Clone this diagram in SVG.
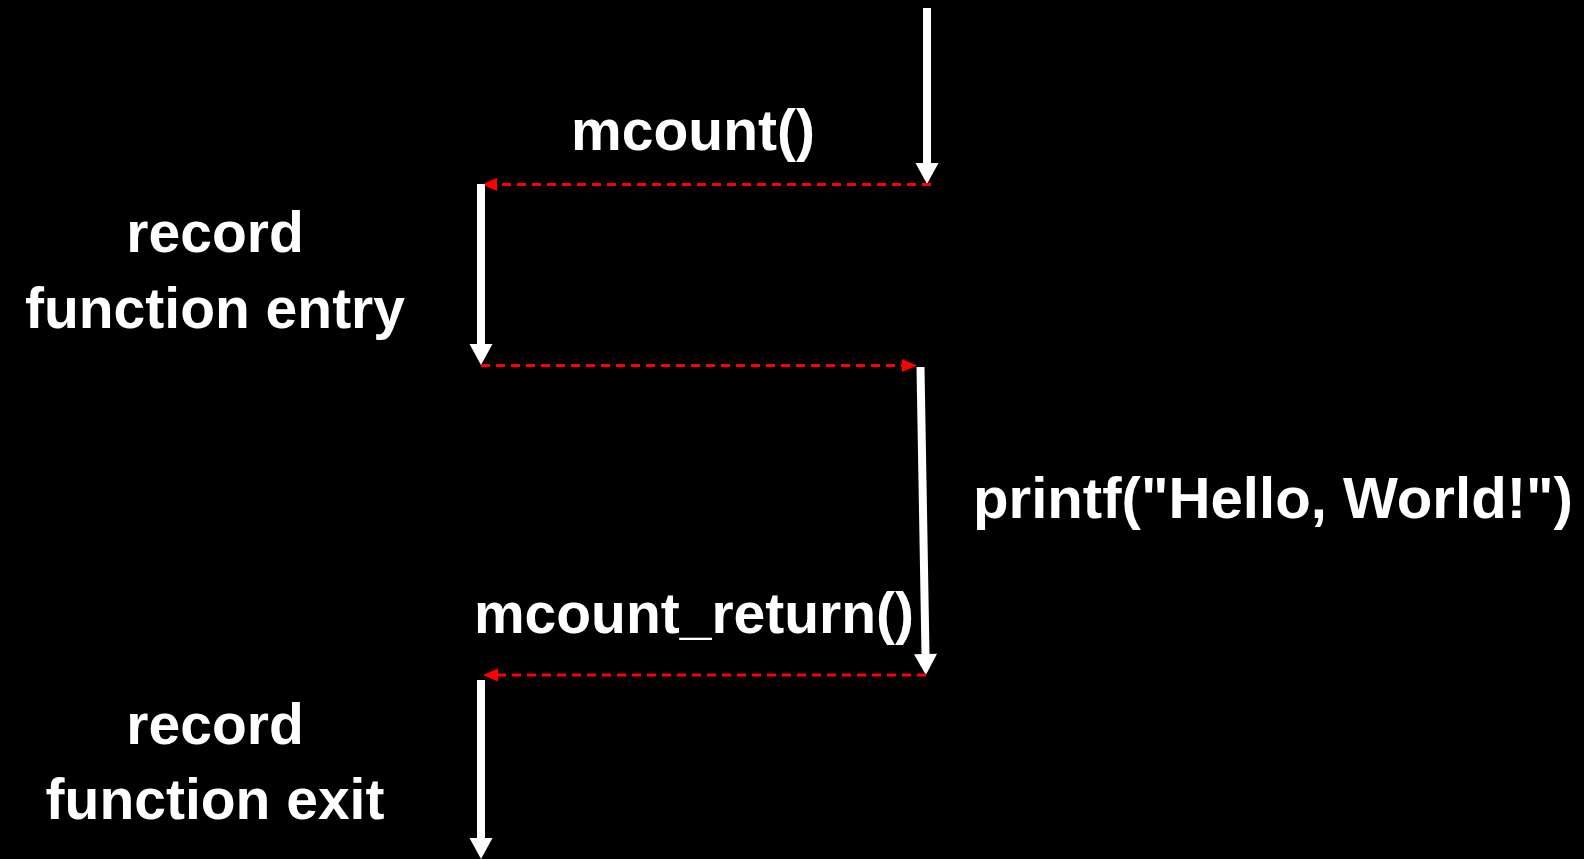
<svg xmlns="http://www.w3.org/2000/svg" width="1584" height="859" viewBox="0 0 1584 859">
<style>
.lbl{font-family:"Liberation Sans",Arial,sans-serif;font-weight:bold;font-size:57px;fill:#ffffff;text-anchor:middle}
.flow{stroke:#ffffff;stroke-width:8;fill:none;marker-end:url(#wh)}
.call{stroke:#ff0000;stroke-width:3;stroke-dasharray:9 6;fill:none;marker-end:url(#rh)}
</style>
<defs>
<marker id="wh" markerUnits="userSpaceOnUse" orient="auto" refX="0" refY="0" markerWidth="22" markerHeight="24" overflow="visible">
<path d="M0,-11.5 L21,0 L0,11.5 z" fill="#ffffff"/>
</marker>
<marker id="rh" markerUnits="userSpaceOnUse" orient="auto" refX="0" refY="0" markerWidth="16" markerHeight="14" overflow="visible">
<path d="M0,-6.5 L15,0 L0,6.5 z" fill="#ff0000"/>
</marker>
</defs>
<rect x="0" y="0" width="1584" height="859" fill="#000000"/>
<g id="connectors">
<line class="flow" x1="927" y1="8" x2="927" y2="163"/>
<line class="call" x1="931" y1="184.5" x2="497" y2="184.5"/>
<line class="flow" x1="481" y1="184" x2="481" y2="344"/>
<line class="call" x1="481" y1="365.5" x2="902" y2="365.5"/>
<line class="flow" x1="920.5" y1="367" x2="925.5" y2="654"/>
<line class="call" x1="926" y1="675" x2="498" y2="675"/>
<line class="flow" x1="481" y1="680" x2="481" y2="838"/>
</g>
<g id="mcount"><text class="lbl" x="693" y="150">mcount()</text></g>
<g id="record-entry"><text class="lbl" x="215" y="252">record</text><text class="lbl" x="215" y="328">function entry</text></g>
<g id="printf"><text class="lbl" x="1273" y="518" textLength="600" lengthAdjust="spacingAndGlyphs">printf("Hello, World!")</text></g>
<g id="mcount-return"><text class="lbl" x="694" y="633">mcount_return()</text></g>
<g id="record-exit"><text class="lbl" x="215" y="744">record</text><text class="lbl" x="215" y="819">function exit</text></g>
</svg>
